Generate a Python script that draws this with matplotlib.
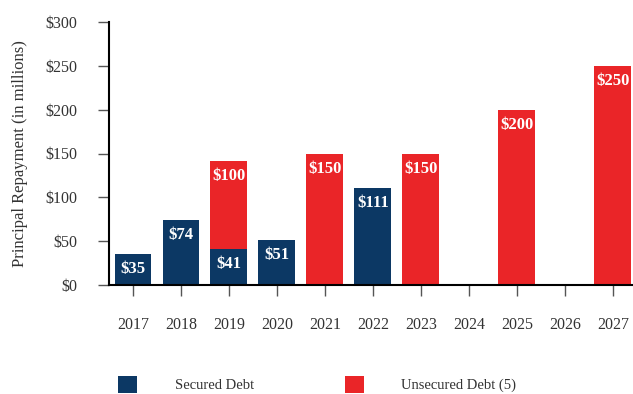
import matplotlib
matplotlib.use("Agg")
import matplotlib.pyplot as plt
import numpy as np

years = [2017, 2018, 2019, 2020, 2021, 2022, 2023, 2024, 2025, 2026, 2027]
secured = [35, 74, 41, 51, 0, 111, 0, 0, 0, 0, 0]
unsecured = [0, 0, 100, 0, 150, 0, 150, 0, 200, 0, 250]
yticks = [0, 50, 100, 150, 200, 250, 300]

navy = "#0c3864"
red = "#ea2528"
tickcol = "#333333"

plt.rcParams['font.family'] = ['Liberation Serif', 'DejaVu Serif']

fig = plt.figure(figsize=(6.33, 3.94), dpi=100)
ax = fig.add_axes([109/633, 109/394, 1 - 109/633, (372-109)/394])

x = np.array(years)
w = 0.77
b1 = ax.bar(x, secured, width=w, color=navy, label="Secured Debt")
b2 = ax.bar(x, unsecured, width=w, bottom=secured, color=red, label="Unsecured Debt (5)")

for xi, s, u in zip(x, secured, unsecured):
    if s > 0:
        ax.annotate(f"${s}", (xi, s), xytext=(0, -15), textcoords="offset pixels",
                    ha="center", va="center", color="white", fontsize=12, fontweight="bold")
    if u > 0:
        ax.annotate(f"${u}", (xi, s + u), xytext=(0, -15), textcoords="offset pixels",
                    ha="center", va="center", color="white", fontsize=12, fontweight="bold")

ax.set_xlim(2016.5, 2027.42)
ax.set_ylim(0, 300)
ax.set_yticks(yticks)
ax.set_yticklabels([f"${v}" for v in yticks])
ax.set_xticks(years)
ax.set_xticklabels([str(y) for y in years])

for s in ["top", "right"]:
    ax.spines[s].set_visible(False)
ax.spines["left"].set_linewidth(1.5)
ax.spines["bottom"].set_linewidth(1.5)
ax.tick_params(axis="both", direction="out", length=8, width=1, color="#555555",
               labelsize=11.5, labelcolor=tickcol, pad=15)

ax.set_ylabel("Principal Repayment (in millions)", fontsize=12, color=tickcol, labelpad=12)

fig.legend(handles=[b1, b2], loc="lower left", bbox_to_anchor=(105/633, -0.03),
           ncol=2, frameon=False, fontsize=10.5, handlelength=1.3, handleheight=1.4,
           handletextpad=2.6, columnspacing=6.2, labelcolor=tickcol)

fig.savefig("out.png", dpi=100)
